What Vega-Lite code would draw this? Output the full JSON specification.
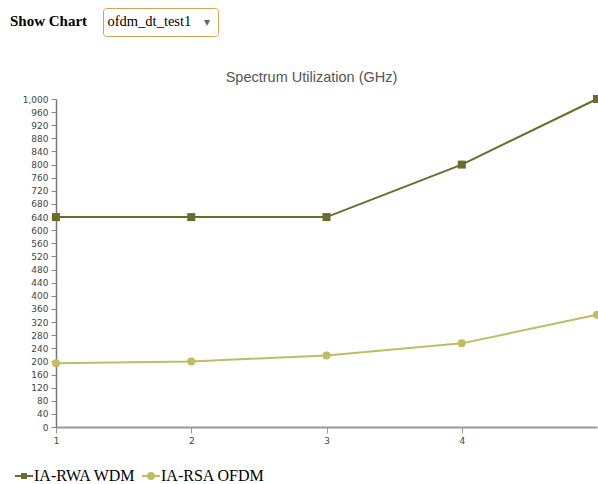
{
  "$schema": "https://vega.github.io/schema/vega-lite/v6.json",
  "width": 541,
  "height": 328,
  "autosize": {"type": "none"},
  "padding": {"left": 56, "top": 99, "right": 1, "bottom": 57},
  "background": "white",
  "title": {"text": "Show Chart", "font": "Liberation Serif", "fontSize": 15, "fontWeight": "bold", "color": "black", "anchor": "start", "frame": "group", "baseline": "alphabetic", "dx": -46, "offset": 0, "dy": 33},
  "config": {"view": {"stroke": null}, "axis": {"grid": false}, "axisY": {"labelOverlap": false, "format": ",d"}},
  "data": {"values": [
    {"series": "IA-RWA WDM", "x": 1, "value": 640, "dataset": "ofdm_dt_test1"},
    {"series": "IA-RWA WDM", "x": 2, "value": 640, "dataset": "ofdm_dt_test1"},
    {"series": "IA-RWA WDM", "x": 3, "value": 640, "dataset": "ofdm_dt_test1"},
    {"series": "IA-RWA WDM", "x": 4, "value": 800, "dataset": "ofdm_dt_test1"},
    {"series": "IA-RWA WDM", "x": 5, "value": 1000, "dataset": "ofdm_dt_test1"},
    {"series": "IA-RSA OFDM", "x": 1, "value": 194, "dataset": "ofdm_dt_test1"},
    {"series": "IA-RSA OFDM", "x": 2, "value": 200, "dataset": "ofdm_dt_test1"},
    {"series": "IA-RSA OFDM", "x": 3, "value": 218, "dataset": "ofdm_dt_test1"},
    {"series": "IA-RSA OFDM", "x": 4, "value": 255, "dataset": "ofdm_dt_test1"},
    {"series": "IA-RSA OFDM", "x": 5, "value": 342, "dataset": "ofdm_dt_test1"}
  ]},
  "layer": [
    {
      "mark": {"type": "line", "strokeWidth": 2},
      "encoding": {
        "x": {"field": "x", "type": "quantitative", "scale": {"domain": [1, 5], "nice": false, "zero": false},
          "axis": {"values": [1, 2, 3, 4], "tickCount": 10, "format": "d", "title": null, "labelFont": "DejaVu Sans", "labelFontSize": 9, "labelColor": "#444444", "tickColor": "#999999", "tickSize": 6, "domainColor": "#999999", "domainWidth": 2, "labelPadding": 3, "labelFlush": false}},
        "y": {"field": "value", "type": "quantitative", "scale": {"domain": [0, 1000], "nice": false},
          "axis": {"values": [0, 40, 80, 120, 160, 200, 240, 280, 320, 360, 400, 440, 480, 520, 560, 600, 640, 680, 720, 760, 800, 840, 880, 920, 960, 1000], "tickCount": 40, "format": ",d", "title": null, "labelFont": "DejaVu Sans", "labelFontSize": 9, "labelColor": "#444444", "tickColor": "#888888", "tickSize": 5, "domainColor": "#777777", "domainWidth": 1.5, "labelPadding": 3, "labelFlush": false, "labelOverlap": false}},
        "color": {"field": "series", "type": "nominal",
          "scale": {"domain": ["IA-RWA WDM", "IA-RSA OFDM"], "range": ["#6b6b2b", "#bfbd5f"]},
          "legend": {"orient": "none", "legendX": -42, "legendY": 367, "title": null, "direction": "horizontal", "padding": 0, "symbolSize": 324, "symbolStrokeWidth": 2, "symbolOpacity": 1, "labelFont": "Liberation Serif", "labelFontSize": 16, "labelColor": "black", "labelOffset": 0, "columnPadding": 2, "symbolOffset": 0}},
        "opacity": {"field": "dataset", "type": "nominal", "scale": {"range": [1, 1]},
          "legend": {"orient": "none", "legendX": 47, "legendY": -91, "title": "▾", "titleOrient": "right", "titleFont": "DejaVu Sans", "titleFontSize": 12, "titleColor": "#666666", "titlePadding": 13, "titleBaseline": "middle", "strokeColor": "#d4a550", "fillColor": "white", "cornerRadius": 3, "padding": 7, "symbolSize": 0, "symbolOpacity": 0, "labelOffset": -17, "labelFont": "Liberation Serif", "labelFontSize": 14.5, "labelColor": "black"}}
      }
    },
    {
      "transform": [{"filter": "datum.series === 'IA-RWA WDM'"}],
      "mark": {"type": "point", "filled": true, "size": 64, "opacity": 1, "shape": "square", "color": "#6b6b2b"},
      "encoding": {
        "x": {"field": "x", "type": "quantitative", "axis": null},
        "y": {"field": "value", "type": "quantitative"}
      }
    },
    {
      "transform": [{"filter": "datum.series === 'IA-RSA OFDM'"}],
      "mark": {"type": "point", "filled": true, "size": 64, "opacity": 1, "shape": "circle", "color": "#bfbd5f"},
      "encoding": {
        "x": {"field": "x", "type": "quantitative", "axis": null},
        "y": {"field": "value", "type": "quantitative"}
      }
    },
    {
      "mark": {"type": "point", "filled": false, "opacity": 0, "strokeWidth": 2},
      "encoding": {
        "x": {"field": "x", "type": "quantitative", "axis": null},
        "y": {"field": "value", "type": "quantitative"},
        "color": {"field": "series", "type": "nominal"},
        "shape": {"field": "series", "type": "nominal",
          "scale": {"domain": ["IA-RWA WDM", "IA-RSA OFDM"], "range": ["M-1,0H1M-0.333,-0.222H0.333M-0.333,0.222H0.333", "M-1,0H1M0.333,0A0.333,0.333 0 1,1 -0.333,0A0.333,0.333 0 1,1 0.333,0M0.111,0A0.111,0.111 0 1,1 -0.111,0A0.111,0.111 0 1,1 0.111,0"]},
          "legend": null}
      }
    },
    {
      "mark": {"type": "point", "opacity": 0},
      "encoding": {
        "x": {"field": "x", "type": "quantitative",
          "axis": {"orient": "top", "domain": false, "ticks": false, "labels": false, "title": "Spectrum Utilization (GHz)", "titleFont": "Liberation Sans", "titleFontSize": 14.5, "titleFontWeight": "normal", "titleColor": "#555555", "titleX": 255, "titleY": -18, "titleAlign": "center", "titleBaseline": "alphabetic", "titleAngle": 0}}
      }
    }
  ],
  "resolve": {"axis": {"x": "independent"}}
}
